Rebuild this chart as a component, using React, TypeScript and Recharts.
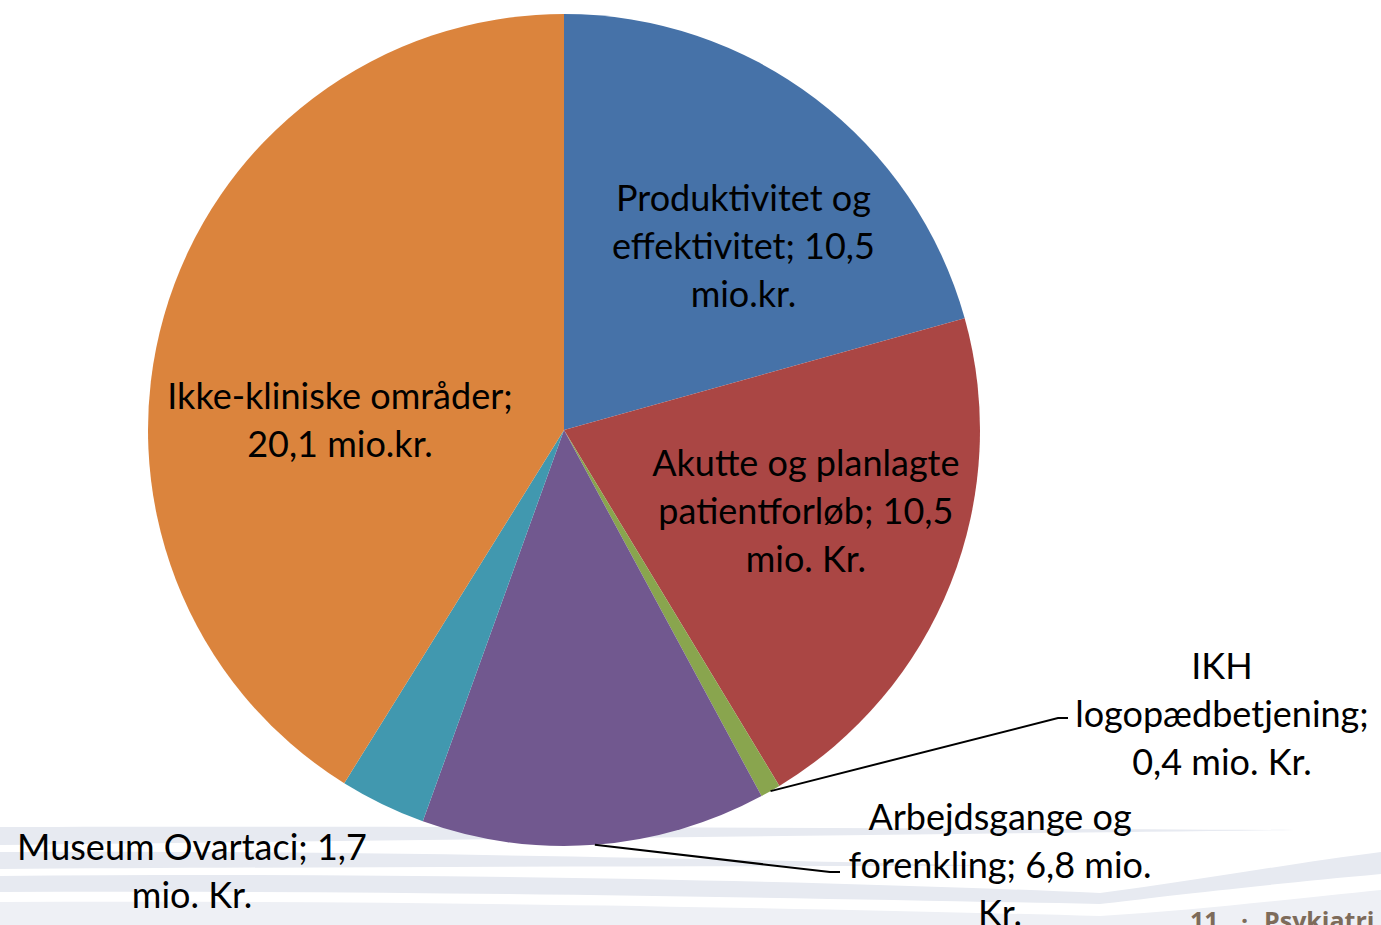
import { PieChart, Pie, Cell } from "recharts";

const categories = [
  "Produktivitet og effektivitet",
  "Akutte og planlagte patientforløb",
  "IKH logopædbetjening",
  "Arbejdsgange og forenkling",
  "Museum Ovartaci",
  "Ikke-kliniske områder",
];
const values = [10.5, 10.5, 0.4, 6.8, 1.7, 20.9];
const labelLines = [
  ["Produktivitet og", "effektivitet; 10,5", "mio.kr."],
  ["Akutte og planlagte", "patientforløb; 10,5", "mio. Kr."],
  ["IKH", "logopædbetjening;", "0,4 mio. Kr."],
  ["Arbejdsgange og", "forenkling; 6,8 mio.", "Kr."],
  ["Museum Ovartaci; 1,7", "mio. Kr."],
  ["Ikke-kliniske områder;", "20,1 mio.kr."],
];
const colors = ["#4672A8", "#AA4644", "#89A54E", "#71588F", "#4198AF", "#DB843D"];

const data = categories.map((name, i) => ({ name, value: values[i] }));

// label placement: inside labels sit on the slice's mid angle (r = share of radius),
// outside labels get a leader line with an elbow, offsets relative to pie centre
const labelLayout: any[] = [
  { r: 0.618, dx: 24, dy: 20 },
  { r: 0.615, dx: 4, dy: -14 },
  { elbow: [494, 288], end: [504, 288], text: [658, 283] },
  { elbow: [266, 442], end: [276, 442], text: [436, 434] },
  { text: [-372, 440] },
  { r: 0.52, dx: -16, dy: 48 },
];

const RAD = Math.PI / 180;
const FONT = 36;
const LINE = 48;

function renderLabel(props: any) {
  const { cx, cy, midAngle, outerRadius, index } = props;
  const lay = labelLayout[index];
  const cos = Math.cos(-midAngle * RAD);
  const sin = Math.sin(-midAngle * RAD);
  let tx: number, ty: number;
  let line = null;
  if (lay.r != null) {
    tx = cx + cos * outerRadius * lay.r + lay.dx;
    ty = cy + sin * outerRadius * lay.r + lay.dy;
  } else {
    tx = cx + lay.text[0];
    ty = cy + lay.text[1];
    if (lay.elbow) {
      const sx = cx + cos * outerRadius;
      const sy = cy + sin * outerRadius;
      line = (
        <polyline
          points={`${sx},${sy} ${cx + lay.elbow[0]},${cy + lay.elbow[1]} ${cx + lay.end[0]},${cy + lay.end[1]}`}
          fill="none"
          stroke="#000"
          strokeWidth={2}
        />
      );
    }
  }
  const lines = labelLines[index];
  const first = ty - ((lines.length - 1) / 2) * LINE;
  return (
    <g key={`lbl-${index}`}>
      {line}
      <text x={tx} y={first} textAnchor="middle" dominantBaseline="central" fill="#000" fontSize={FONT} fontFamily="Lato, 'Noto Sans', sans-serif">
        {lines.map((l, i) => (
          <tspan key={i} x={tx} dy={i === 0 ? 0 : LINE}>{l}</tspan>
        ))}
      </text>
    </g>
  );
}

function Backdrop() {
  const c = "#E7EAF1";
  const footer = { fill: "#7D6B5A", fontSize: 25, fontWeight: 700, fontFamily: "'Open Sans', 'Liberation Sans', sans-serif" };
  return (
    <svg width={1381} height={925} style={{ position: "absolute", left: 0, top: 0 }}>
      <path d="M0,827 C400,826 900,828 1295,830 C900,835 400,840 0,845 Z" fill={c} />
      <path d="M0,852 C300,850 700,858 1000,866 C700,866 300,867 0,869 Z" fill={c} />
      <path d="M0,876 C400,872 800,880 1100,893 C1200,880 1300,862 1381,852 L1381,874 C1250,886 1150,898 1100,904 C800,898 400,890 0,892 Z" fill={c} />
      <path d="M0,902 C400,900 800,908 1100,916 C1200,910 1300,898 1381,890 L1381,925 L0,925 Z" fill="#EEF0F5" />
      <text x={1190} y={930} {...footer}>11</text>
      <text x={1241} y={930} {...footer}>·</text>
      <text x={1264} y={930} {...footer}>Psykiatri</text>
    </svg>
  );
}

export default function App() {
  return (
    <div style={{ position: "absolute", left: 0, top: 0, width: 1381, height: 925, overflow: "hidden", background: "#fff" }}>
      <Backdrop />
      <div style={{ position: "absolute", left: 0, top: 0 }}>
        <PieChart width={1381} height={925} margin={{ top: 0, right: 0, bottom: 0, left: 0 }}>
          <Pie
            data={data}
            dataKey="value"
            nameKey="name"
            cx={564}
            cy={430}
            outerRadius={416}
            startAngle={90}
            endAngle={-270}
            stroke="none"
            label={renderLabel}
            labelLine={false}
            isAnimationActive={false}
          >
            {data.map((d, i) => (
              <Cell key={d.name} fill={colors[i]} />
            ))}
          </Pie>
        </PieChart>
      </div>
    </div>
  );
}
